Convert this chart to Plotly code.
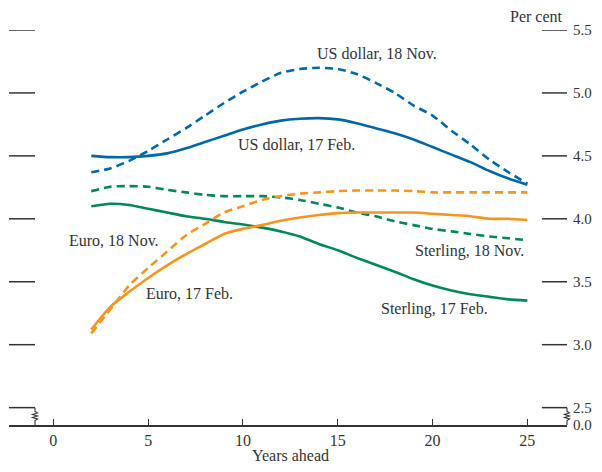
import plotly.graph_objects as go

years = list(range(2, 26))

usd_feb = [4.50, 4.49, 4.49, 4.50, 4.52, 4.56, 4.61, 4.66, 4.71, 4.75, 4.78, 4.795,
           4.80, 4.79, 4.76, 4.72, 4.68, 4.63, 4.57, 4.51, 4.45, 4.38, 4.32, 4.27]
usd_nov = [4.37, 4.40, 4.46, 4.54, 4.63, 4.72, 4.82, 4.92, 5.01, 5.09, 5.16, 5.19,
           5.20, 5.19, 5.15, 5.08, 5.00, 4.90, 4.82, 4.70, 4.59, 4.47, 4.37, 4.28]
gbp_nov = [4.22, 4.255, 4.26, 4.255, 4.23, 4.21, 4.19, 4.18, 4.18, 4.18, 4.17, 4.15,
           4.12, 4.09, 4.05, 4.02, 3.98, 3.95, 3.92, 3.90, 3.88, 3.86, 3.845, 3.83]
gbp_feb = [4.10, 4.12, 4.11, 4.08, 4.05, 4.02, 4.00, 3.975, 3.955, 3.93, 3.90, 3.86,
           3.80, 3.75, 3.69, 3.635, 3.58, 3.52, 3.47, 3.43, 3.40, 3.38, 3.36, 3.35]
eur_feb = [3.12, 3.30, 3.42, 3.53, 3.63, 3.72, 3.80, 3.88, 3.92, 3.95, 3.985, 4.01,
           4.03, 4.045, 4.05, 4.05, 4.05, 4.05, 4.04, 4.03, 4.02, 4.00, 4.00, 3.99]
eur_nov = [3.09, 3.28, 3.47, 3.61, 3.74, 3.87, 3.96, 4.05, 4.10, 4.15, 4.18, 4.20,
           4.21, 4.22, 4.225, 4.225, 4.225, 4.22, 4.21, 4.21, 4.21, 4.21, 4.21, 4.21]

x_ticks = [0, 5, 10, 15, 20, 25]
y_ticks = [3.0, 3.5, 4.0, 4.5, 5.0, 5.5]
y_break = 2.362  # where 0.0 sits on the broken axis

BLUE = "#0068a9"
GREEN = "#00875a"
ORANGE = "#f7941e"
INK = "#333333"
FONT = "Liberation Serif"

fig = go.Figure()

series = [
    (usd_nov, BLUE, "8px,5px"),
    (usd_feb, BLUE, "solid"),
    (gbp_nov, GREEN, "8px,5px"),
    (gbp_feb, GREEN, "solid"),
    (eur_nov, ORANGE, "8px,5px"),
    (eur_feb, ORANGE, "solid"),
]
for vals, col, dash in series:
    fig.add_trace(go.Scatter(x=years, y=vals, mode="lines",
                             line=dict(color=col, width=2.6, dash=dash,
                                       shape="spline", smoothing=0.6),
                             showlegend=False, hoverinfo="skip"))

# tick stubs on both sides
shapes = []
for v in y_ticks + [2.5]:
    shapes.append(dict(type="line", xref="paper", yref="y", x0=0, x1=0.0466,
                       y0=v, y1=v, line=dict(color=INK, width=1.5)))
    shapes.append(dict(type="line", xref="paper", yref="y", x0=0.955, x1=1.0,
                       y0=v, y1=v, line=dict(color=INK, width=1.5)))

# axis-break squiggles
def squiggle(xp):
    d = 0.0045
    ys = [2.5, 2.47, 2.458, 2.446, 2.434, 2.422, 2.41, 2.398, y_break]
    xs = [xp, xp, xp + d, xp - d, xp + d, xp - d, xp + d, xp, xp]
    pts = []
    for i, (a, b) in enumerate(zip(xs, ys)):
        pts.append(("M" if i == 0 else "L") + f"{a},{b}")
    return " ".join(pts)

for xp in (0.0466, 1.0):
    shapes.append(dict(type="path", xref="paper", yref="y", path=squiggle(xp),
                       line=dict(color=INK, width=1.1)))

fig.update_layout(shapes=shapes)

labels = [
    ("US dollar, 18 Nov.", 17.07, 5.315),
    ("US dollar, 17 Feb.", 12.8, 4.59),
    ("Euro, 18 Nov.", 3.19, 3.83),
    ("Euro, 17 Feb.", 7.16, 3.41),
    ("Sterling, 18 Nov.", 21.95, 3.745),
    ("Sterling, 17 Feb.", 20.12, 3.282),
]
for txt, xv, yv in labels:
    fig.add_annotation(x=xv, y=yv, text=txt, showarrow=False,
                       font=dict(family=FONT, size=16, color=INK))

fig.add_annotation(xref="paper", yref="paper", x=0.505, y=-0.102,
                   text="Years ahead", showarrow=False, yanchor="bottom",
                   borderpad=0,
                   font=dict(family=FONT, size=16, color=INK))
fig.add_annotation(xref="paper", yref="paper", x=0.997, y=1.033,
                   text="Per cent", showarrow=False, xanchor="right",
                   yanchor="middle", font=dict(family=FONT, size=16, color=INK))

fig.update_xaxes(range=[-2.34, 27.09], tickvals=x_ticks, showgrid=False,
                 zeroline=False, showline=True, linecolor=INK, linewidth=1.5,
                 ticks="inside", ticklen=6, tickwidth=1.3, tickcolor=INK,
                 automargin=False,
                 tickfont=dict(family=FONT, size=16, color=INK))
fig.update_yaxes(range=[y_break, 5.5], side="right",
                 tickvals=[y_break, 2.5] + y_ticks,
                 ticktext=["0.0", "2.5"] + [f"{v:.1f}" for v in y_ticks],
                 showgrid=False, zeroline=False, showline=False, ticks="",
                 ticklabelstandoff=5, automargin=False,
                 tickfont=dict(family=FONT, size=15, color=INK))

# the page body adds an 8px offset, so the figure is sized to sit inside 602x472
fig.update_layout(width=594, height=456,
                  margin=dict(l=1, r=35, t=22, b=39),
                  paper_bgcolor="white", plot_bgcolor="white")

fig.write_html("out.html")
